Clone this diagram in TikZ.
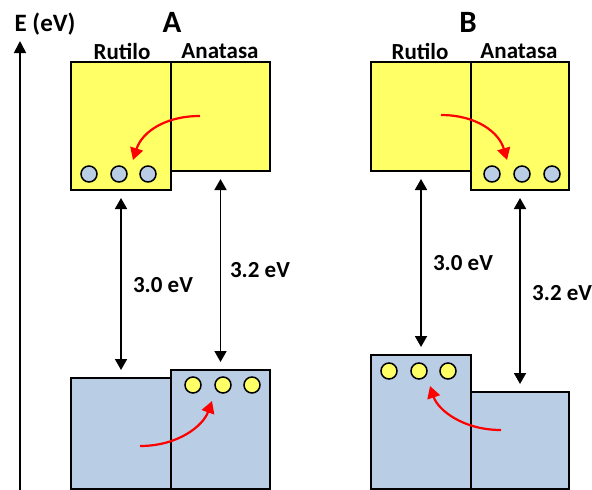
\documentclass[tikz,border=0pt]{standalone}
\usepackage{fontspec}
\setmainfont{Carlito}
\usetikzlibrary{arrows.meta}
\definecolor{cbyellow}{RGB}{255,255,102}
\definecolor{vbblue}{RGB}{185,205,229}
\definecolor{flowred}{RGB}{255,0,0}
\begin{document}
\begin{tikzpicture}[x=1pt,y=-1pt,
  lbl/.style={inner sep=0pt, font=\bfseries\fontsize{23}{27}\selectfont},
  ttl/.style={inner sep=0pt, font=\bfseries\fontsize{31}{35}\selectfont},
  band/.style={draw=black, line width=2pt, inner sep=0pt, outer sep=0pt},
  cb/.style={band, fill=cbyellow},
  vb/.style={band, fill=vbblue},
  elecdot/.style={circle, draw=black, line width=1.5pt, fill=vbblue, minimum size=16pt, inner sep=0pt},
  holedot/.style={circle, draw=black, line width=1.5pt, fill=cbyellow, minimum size=16pt, inner sep=0pt},
  gap/.style={line width=1.8pt, {Triangle[length=11pt,width=12pt]}-{Triangle[length=11pt,width=12pt]}, shorten <=8pt, shorten >=8pt},
  flow/.style={draw=flowred, line width=2.2pt, -{Triangle[length=12pt,width=13pt]}}
]
\useasboundingbox (0,0) rectangle (592,490);
\clip (0,0) rectangle (592,490);

% energy axis
\coordinate (axb) at (20,492);
\coordinate (axt) at (20,41);
\draw[line width=1.8pt, -{Triangle[length=12pt,width=12pt]}] (axb) -- (axt);
\node[lbl, font=\bfseries\fontsize{25}{29}\selectfont] (elabel) at (45,24) {E (eV)};

% ---------- Panel A ----------
\node[ttl] (titA) at (172,22) {A};
\node[lbl] (rutA) at (122,51) {Rutilo};
\node[lbl] (anaA) at (220,51) {Anatasa};

\node[cb, minimum width=99pt, minimum height=109pt] (aAcb) at (220.5,116.5) {};
\node[cb, minimum width=100pt, minimum height=128pt] (rAcb) at (121,126) {};
\node[vb, minimum width=100pt, minimum height=111pt] (rAvb) at (121,433.5) {};
\node[vb, minimum width=99pt, minimum height=119pt] (aAvb) at (220.5,429.5) {};

\node[elecdot] (eA1) at (89,174) {};
\node[elecdot] (eA2) at (119,174) {};
\node[elecdot] (eA3) at (148,174) {};
\node[holedot] (hA1) at (193,385) {};
\node[holedot] (hA2) at (223,385) {};
\node[holedot] (hA3) at (252,385) {};

\draw[gap] (rAcb.south) -- (rAvb.north);
\draw[gap] (aAcb.south) -- (aAvb.north);
\node[lbl] (gA1) at (163,285) {3.0 eV};
\node[lbl] (gA2) at (260,270) {3.2 eV};

\coordinate (fA1s) at (200,116);
\coordinate (fA1e) at (133,160);
\draw[flow] (fA1s) .. controls (165,116) and (142,132) .. (fA1e);
\coordinate (fA2s) at (140,446);
\coordinate (fA2e) at (212,401);
\draw[flow] (fA2s) .. controls (178,446) and (203,426) .. (fA2e);

% ---------- Panel B ----------
\node[ttl] (titB) at (468,22) {B};
\node[lbl] (rutB) at (420,51) {Rutilo};
\node[lbl] (anaB) at (519,51) {Anatasa};

\node[cb, minimum width=100pt, minimum height=109pt] (rBcb) at (421,116.5) {};
\node[cb, minimum width=98pt, minimum height=128pt] (aBcb) at (520,126) {};
\node[vb, minimum width=98pt, minimum height=97pt] (aBvb) at (520,440.5) {};
\node[vb, minimum width=100pt, minimum height=134pt] (rBvb) at (421,422) {};

\node[elecdot] (eB1) at (492,174) {};
\node[elecdot] (eB2) at (522,174) {};
\node[elecdot] (eB3) at (552,174) {};
\node[holedot] (hB1) at (389,371) {};
\node[holedot] (hB2) at (419,371) {};
\node[holedot] (hB3) at (448,371) {};

\draw[gap] (rBcb.south) -- (rBvb.north);
\draw[gap] (aBcb.south) -- (aBvb.north);
\node[lbl] (gB1) at (463,263) {3.0 eV};
\node[lbl, anchor=west] (gB2) at (532,293) {3.2 eV};

\coordinate (fB1s) at (441,115);
\coordinate (fB1e) at (507,160);
\draw[flow] (fB1s) .. controls (476,115) and (499,132) .. (fB1e);
\coordinate (fB2s) at (501,430);
\coordinate (fB2e) at (430,386);
\draw[flow] (fB2s) .. controls (463,430) and (438,410) .. (fB2e);
\end{tikzpicture}
\end{document}
